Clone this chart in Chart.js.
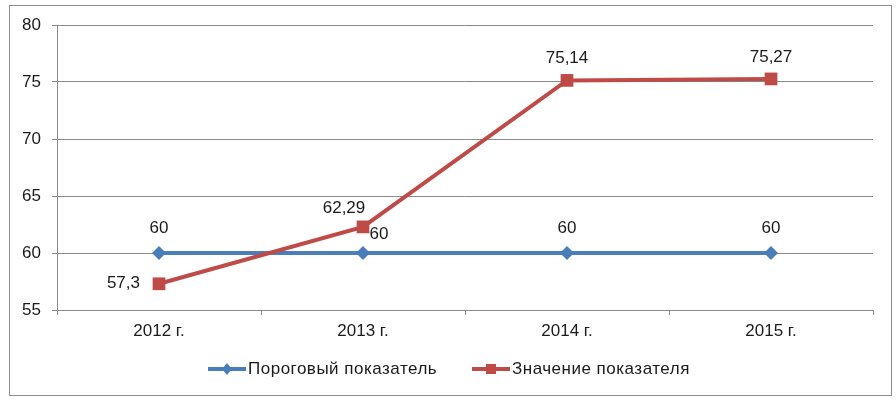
<!DOCTYPE html>
<html>
<head>
<meta charset="utf-8">
<script src="https://cdn.jsdelivr.net/npm/chart.js@4"></script>
<style>
  html, body { margin: 0; padding: 0; background: #fff; }
  #wrap { width: 896px; height: 399px; }
</style>
</head>
<body>
<div id="wrap"><canvas id="myChart" width="896" height="399"></canvas></div>
<script>
// chart data
var years = ["2012 г.", "2013 г.", "2014 г.", "2015 г."];
var threshold = [60, 60, 60, 60];
var actual = [57.3, 62.29, 75.14, 75.27];
var yTicks = [55, 60, 65, 70, 75, 80];
var seriesNames = ["Пороговый показатель", "Значение показателя"];

var FONT = "'Liberation Sans', Arial, sans-serif";
var BLUE = "#4a7ebb";
var RED = "#be4b48";
var GRID = "#898989";

// where to put each value label relative to its point (dx, dy, align)
var labelPos = [
  [[0, -25, "center"], [16, -19, "center"], [0, -25, "center"], [0, -25, "center"]],
  [[-19, 0, "right"], [-19, -19, "center"], [0, -22, "center"], [0, -22, "center"]]
];

function fmt(v) {
  return String(v).replace(".", ",");
}

// value labels + outer frame + legend
var extras = {
  id: "extras",
  afterDatasetsDraw: function(chart) {
    var ctx = chart.ctx;
    ctx.save();
    ctx.font = "17px " + FONT;
    ctx.fillStyle = "#1a1a1a";
    ctx.textBaseline = "middle";
    chart.data.datasets.forEach(function(ds, di) {
      var meta = chart.getDatasetMeta(di);
      meta.data.forEach(function(pt, i) {
        var p = labelPos[di][i];
        ctx.textAlign = p[2];
        ctx.fillText(fmt(ds.data[i]), pt.x + p[0], pt.y + p[1]);
      });
    });
    ctx.restore();
  },
  afterDraw: function(chart) {
    var ctx = chart.ctx;
    ctx.save();
    // frame
    ctx.strokeStyle = "#8c8c8c";
    ctx.lineWidth = 1;
    ctx.strokeRect(9.5, 5.5, 882, 390);
    // legend
    var ly = 369;
    var items = [
      { x: 208, color: BLUE, style: "diamond", text: seriesNames[0] },
      { x: 472, color: RED, style: "square", text: seriesNames[1] }
    ];
    ctx.font = "17px " + FONT;
    ctx.letterSpacing = "0.5px";
    ctx.textBaseline = "middle";
    ctx.textAlign = "left";
    items.forEach(function(it) {
      ctx.strokeStyle = it.color;
      ctx.lineWidth = 4;
      ctx.beginPath();
      ctx.moveTo(it.x, ly);
      ctx.lineTo(it.x + 38, ly);
      ctx.stroke();
      ctx.fillStyle = it.color;
      var cx = it.x + 19;
      if (it.style === "diamond") {
        ctx.beginPath();
        ctx.moveTo(cx - 5, ly);
        ctx.lineTo(cx, ly - 6);
        ctx.lineTo(cx + 5, ly);
        ctx.lineTo(cx, ly + 6);
        ctx.closePath();
        ctx.fill();
      } else {
        ctx.fillRect(cx - 5, ly - 5, 10, 10);
      }
      ctx.fillStyle = "#1a1a1a";
      ctx.fillText(it.text, it.x + 40, ly);
    });
    ctx.restore();
  }
};

const ctx = document.getElementById("myChart");

new Chart(ctx, {
  type: "line",
  data: {
    labels: years,
    datasets: [{
      label: seriesNames[0],
      data: threshold,
      borderColor: BLUE,
      backgroundColor: BLUE,
      borderWidth: 4,
      pointStyle: "rectRot",
      pointRadius: 7,
      pointBorderWidth: 0,
      tension: 0,
      order: 2
    }, {
      label: seriesNames[1],
      data: actual,
      borderColor: RED,
      backgroundColor: RED,
      borderWidth: 4,
      pointStyle: "rect",
      pointRadius: 9,
      pointBorderWidth: 0,
      tension: 0,
      order: 1
    }]
  },
  options: {
    responsive: false,
    animation: false,
    layout: { padding: { left: 10, right: 23, top: 25, bottom: 49 } },
    plugins: {
      legend: { display: false },
      tooltip: { enabled: false }
    },
    scales: {
      x: {
        offset: true,
        grid: { display: true, drawOnChartArea: false, color: GRID, tickLength: 5, offset: true },
        border: { color: GRID, width: 1 },
        ticks: { color: "#1a1a1a", font: { family: FONT, size: 17 }, padding: 6 },
        afterFit: function(s) { s.height = 40; }
      },
      y: {
        min: 55,
        max: 80,
        afterBuildTicks: function(s) { s.ticks = yTicks.map(function(v) { return { value: v }; }); },
        grid: { color: GRID, tickLength: 5 },
        border: { color: GRID, width: 1 },
        ticks: { color: "#1a1a1a", font: { family: FONT, size: 17 }, padding: 11 },
        afterFit: function(s) { s.width = 47; }
      }
    }
  },
  plugins: [extras]
});
</script>
</body>
</html>
